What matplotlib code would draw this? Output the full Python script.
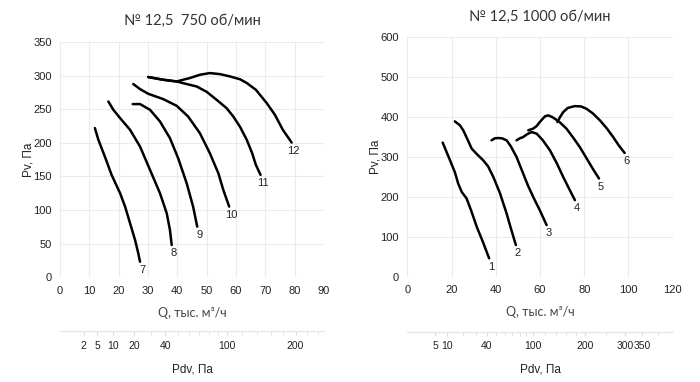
import numpy as np
import matplotlib
matplotlib.use("Agg")
import matplotlib.pyplot as plt

# --- data (Q in thousand m3/h, Pv in Pa) ---
titles = ["№ 12,5  750 об/мин", "№ 12,5 1000 об/мин"]

# 750 rpm
q7 = [11.9, 13.1, 15.3, 17.6, 20.5, 22.2, 23.9, 25.6, 26.7, 27.3]
p7 = [222, 204.5, 179.6, 152.4, 125.1, 105.2, 80.4, 55.6, 35.7, 23.2]
q8 = [16.5, 18.2, 20.5, 23.9, 27.3, 30.7, 34.1, 36.4, 37.5, 38.1]
p8 = [261.5, 249.2, 236.8, 219.4, 194.5, 159.8, 125.1, 95.3, 70.5, 48.1]
q9 = [24.8, 27.3, 30.7, 34.1, 37.5, 40.3, 43.2, 45.4, 46.8]
p9 = [257.7, 257.7, 249.2, 231.8, 207, 177.2, 140, 105.2, 75.4]
q10 = [25, 27.3, 30.1, 35.2, 39.8, 43.7, 47.7, 51.1, 54, 55.7, 57.7]
p10 = [287.5, 280, 273, 265.1, 255.1, 239.2, 214.5, 184.7, 154.9, 130, 105.2]
q11 = [30.1, 35.2, 39.8, 43.2, 46.6, 50, 53.4, 56.8, 59.1, 61.4, 63.7, 65.5, 66.8, 68.4]
p11 = [297.9, 293.9, 291.3, 287.5, 283.9, 276, 264.1, 251.7, 239.2, 223.9, 204.5, 185.1, 167.3, 152.4]
q12 = [30.1, 35.2, 39.8, 42, 44.3, 47.7, 51.1, 54.5, 58, 61.4, 63.7, 66.8, 70.5, 73.3, 76, 79]
p12 = [297.9, 293.9, 291.3, 293.9, 296.4, 301.3, 303.8, 302.3, 298.8, 294.6, 289, 279, 259.2, 241.7, 219.4, 200.5]

# 1000 rpm
q1 = [16, 19.3, 21.5, 23, 24.6, 26.8, 28.8, 31.4, 34.2, 37]
p1 = [336, 291.8, 261.8, 233.5, 212.5, 196, 166.8, 125, 86.8, 46]
q2 = [21.5, 23.8, 25.3, 27.4, 29.1, 31.5, 34.3, 36.5, 38.9, 41.9, 44.9, 46.8, 49.1]
p2 = [389.3, 379.3, 366.8, 341.8, 321, 306.8, 291.8, 276.8, 250, 209.3, 158.5, 121.8, 79.3]
q3 = [38.1, 39.6, 41.1, 42.8, 44.9, 46.8, 49.4, 51.8, 54.5, 57.2, 59.9, 63]
p3 = [341.8, 346.8, 347.5, 346.8, 341.8, 326.8, 300, 266.8, 229.3, 196.8, 166.8, 129.3]
q4 = [49.4, 50.9, 52.4, 54.1, 56.2, 58.5, 61.3, 64.5, 67.6, 70.5, 73.5, 75.8]
p4 = [341.8, 346.8, 350, 356.8, 362.5, 358.5, 341.8, 316.8, 284.3, 250, 216.8, 191.8]
q5 = [54.7, 56.9, 58.5, 59.9, 62.2, 63.7, 65.4, 66.7, 69, 72, 74.9, 78, 81.6, 84.3, 86.7]
p5 = [366.8, 371, 377.5, 387.5, 401.8, 404.3, 400.5, 396, 386.8, 371, 349.3, 325, 291.8, 266.8, 246]
q6 = [67.9, 69, 70.5, 72.6, 75.8, 78.5, 81, 83.9, 87.1, 90.2, 93.1, 95.6, 98.3]
p6 = [387.5, 399.3, 412.5, 423, 427.5, 426.8, 421, 409.3, 391.8, 371.8, 350, 329.3, 310]

curves_750 = [("7", q7, p7), ("8", q8, p8), ("9", q9, p9),
              ("10", q10, p10), ("11", q11, p11), ("12", q12, p12)]
curves_1000 = [("1", q1, p1), ("2", q2, p2), ("3", q3, p3),
               ("4", q4, p4), ("5", q5, p5), ("6", q6, p6)]

# dynamic pressure scale: Pdv = k * Q^2
k_pdv = 100 / 56.8 ** 2
pdv_labels_750 = [2, 5, 10, 20, 40, 100, 200]
pdv_minor_750 = [30, 50, 60, 70, 80, 90, 120, 140, 160, 180, 220, 240]
pdv_labels_1000 = [5, 10, 40, 100, 200, 300, 350]
pdv_minor_1000 = [20, 30, 50, 60, 70, 80, 90, 120, 140, 160, 180, 250, 400]

grid_c = "#ebebeb"
txt_c = "#222222"

fig = plt.figure(figsize=(7, 3.82), dpi=100)
ax1 = fig.add_axes([0.0857, 0.274, 0.377, 0.616])
ax2 = fig.add_axes([0.5819, 0.2757, 0.379, 0.6267])


def fwd(q):
    return k_pdv * np.asarray(q) ** 2


def inv(p):
    return np.sqrt(np.abs(np.asarray(p)) / k_pdv)


def setup(ax, title, xmax, xstep, ymax, ystep, curves, pdv_lab, pdv_min):
    ax.set_xlim(0, xmax)
    ax.set_ylim(0, ymax)
    ax.set_xticks(np.arange(0, xmax + 1, xstep))
    ax.set_yticks(np.arange(0, ymax + 1, ystep))
    ax.grid(True, color=grid_c, lw=0.8)
    ax.set_axisbelow(True)
    for s in ax.spines.values():
        s.set_visible(False)
    ax.tick_params(length=0, labelsize=8, colors=txt_c, pad=6)
    for lab in ax.get_xticklabels() + ax.get_yticklabels():
        lab.set_family("Liberation Sans")
    ax.set_title(title, fontsize=10.5, color="#333333", family="Lato",
                 pad=12)
    ax.set_xlabel("Q, тыс. м³/ч", fontsize=9, color="#444444", family="Lato",
                  labelpad=8)
    ax.set_ylabel("Pv, Па", fontsize=8.5, color=txt_c, family="Liberation Sans",
                  labelpad=-1)
    for name, q, p in curves:
        ax.plot(q, p, color="black", lw=1.8, solid_capstyle="round",
                solid_joinstyle="round")
        ax.annotate(name, (q[-1], p[-1]), xytext=(1.5, -6),
                    textcoords="offset points", ha="center", va="center",
                    fontsize=8, family="Liberation Sans", color=txt_c)

    sec = ax.secondary_xaxis(-0.23, functions=(fwd, inv))
    sec.set_xticks(pdv_lab)
    sec.set_xticks(pdv_min, minor=True)
    sec.set_xticklabels([str(v) for v in pdv_lab], family="Liberation Sans")
    sec.tick_params(which="both", direction="out", length=3, color="#dddddd",
                    labelsize=7.5, labelcolor=txt_c, pad=4)
    sec.spines["bottom"].set_color("#e4e4e4")
    sec.spines["bottom"].set_linewidth(0.8)
    sec.set_xlabel("Pdv, Па", fontsize=8.5, color=txt_c,
                   family="Liberation Sans", labelpad=9)


setup(ax1, titles[0], 90, 10, 350, 50, curves_750, pdv_labels_750, pdv_minor_750)
setup(ax2, titles[1], 120, 20, 600, 100, curves_1000, pdv_labels_1000, pdv_minor_1000)

fig.savefig("out.png", dpi=100)
